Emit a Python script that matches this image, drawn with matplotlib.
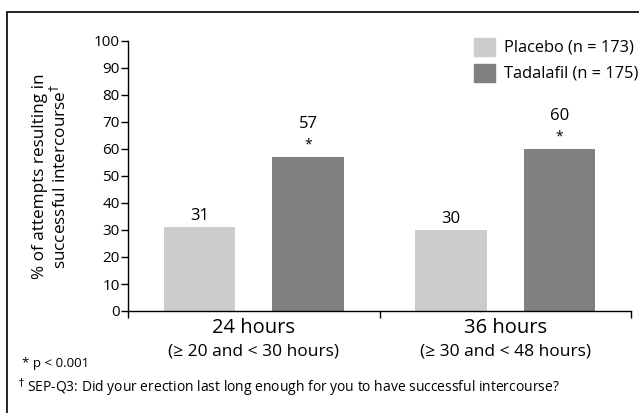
import matplotlib
matplotlib.use('Agg')
import matplotlib.pyplot as plt
import matplotlib.transforms as mtransforms
from matplotlib.patches import Rectangle
import numpy as np

# --- data ---
categories = ["24 hours", "36 hours"]
subtitles = ["(\u2265 20 and < 30 hours)", "(\u2265 30 and < 48 hours)"]
placebo = [31, 30]
tadalafil = [57, 60]
significant = [True, True]
series_labels = ["Placebo (n = 173)", "Tadalafil (n = 175)"]
series_colors = ['#cccccc', '#808080']
y_ticks = list(range(0, 101, 10))

plt.rcParams['font.family'] = ['Open Sans', 'DejaVu Sans']

W, H = 639, 413
fig = plt.figure(figsize=(W / 100, H / 100), dpi=100)
ax = fig.add_axes([128 / W, 1 - 311 / H, 503 / W, 270 / H])

centers = np.arange(len(categories)) + 0.5
offset = 0.216
width = 0.284
ax.bar(centers - offset, placebo, width, color=series_colors[0])
ax.bar(centers + offset, tadalafil, width, color=series_colors[1])

for i, c in enumerate(centers):
    ax.text(c - offset, placebo[i] + 4.2, str(placebo[i]), ha='center', va='center', fontsize=12)
    if significant[i]:
        ax.text(c + offset, tadalafil[i] + 4.6, "*", ha='center', va='center', fontsize=10)
        ax.text(c + offset, tadalafil[i] + 12.4, str(tadalafil[i]), ha='center', va='center', fontsize=12)
    else:
        ax.text(c + offset, tadalafil[i] + 4.2, str(tadalafil[i]), ha='center', va='center', fontsize=12)

ax.set_xlim(0, 2)
ax.set_ylim(0, 100)
ax.set_yticks(y_ticks)
ax.set_yticklabels([str(t) for t in y_ticks], fontsize=11)
ax.set_xticks([0, 1, 2])
ax.set_xticklabels([])
ax.tick_params(axis='y', length=5, width=1, pad=1)
ax.tick_params(axis='x', length=5, width=1)
for s in ['top', 'right']:
    ax.spines[s].set_visible(False)
for s in ['left', 'bottom']:
    ax.spines[s].set_linewidth(1)

trans = mtransforms.blended_transform_factory(ax.transData, fig.transFigure)
for i, c in enumerate(centers):
    ax.text(c, 1 - 328 / H, categories[i], transform=trans, ha='center', va='center', fontsize=14.5)
    ax.text(c, 1 - 352 / H, subtitles[i], transform=trans, ha='center', va='center', fontsize=12.5)

ax.set_ylabel("% of attempts resulting in\nsuccessful intercourse$^{\u2020}$", fontsize=12.3,
              linespacing=1.12, labelpad=17)

# legend, drawn by hand to sit where the reference has it
for i, label in enumerate(series_labels):
    y0 = 38 + 26 * i
    fig.patches.append(Rectangle((474 / W, 1 - (y0 + 18) / H), 21 / W, 18 / H,
                                 transform=fig.transFigure, color=series_colors[i]))
    fig.text(504 / W, 1 - (y0 + 9) / H, label, ha='left', va='center', fontsize=11.8)

fig.text(22 / W, 1 - 363 / H, "* p < 0.001", ha='left', va='center', fontsize=9.6)
fig.text(18 / W, 1 - 388 / H,
         "$^{\u2020}$ SEP-Q3: Did your erection last long enough for you to have successful intercourse?",
         ha='left', va='center', fontsize=10)

# outer frame of the slide
fig.patches.append(Rectangle((7 / W, -0.05), 1.1, 1 - 12 / H + 0.05, transform=fig.transFigure,
                             fill=False, edgecolor='black', linewidth=1.2, clip_on=False))

fig.savefig('out.png', dpi=100)
